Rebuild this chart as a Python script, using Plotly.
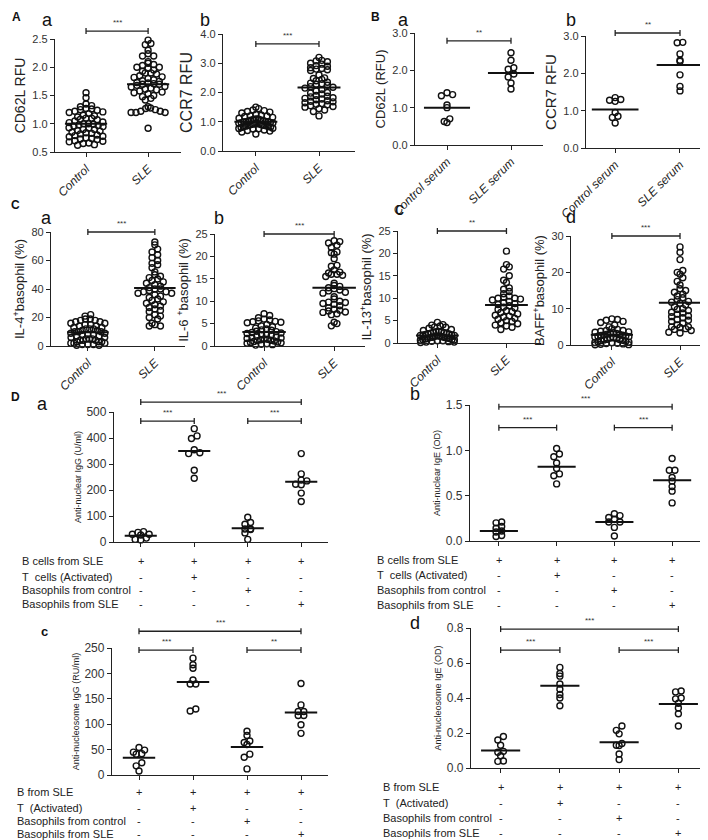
import math
import plotly.graph_objects as go

W, H = 708, 840

# ------------------------------------------------------------------ data
cats_A = ["Control", "SLE"]
cats_B = ["Control serum", "SLE serum"]

Aa_control = [1.55, 1.46, 1.35, 1.32, 1.30, 1.27, 1.26, 1.25, 1.24, 1.22, 1.21, 1.20, 1.18, 1.15, 1.14,
              1.12, 1.10, 1.10, 1.08, 1.07, 1.05, 1.03, 1.02, 1.00, 1.00, 0.99, 0.98, 0.97, 0.96, 0.95,
              0.93, 0.92, 0.90, 0.90, 0.88, 0.87, 0.85, 0.84, 0.83, 0.82, 0.80, 0.79, 0.78, 0.77, 0.75,
              0.74, 0.73, 0.72, 0.70, 0.69, 0.68, 0.66, 0.65, 0.63, 0.62]
Aa_sle = [2.48, 2.42, 2.40, 2.30, 2.24, 2.20, 2.20, 2.10, 2.07, 2.05, 2.03, 2.00, 2.00, 1.98, 1.95,
          1.93, 1.90, 1.90, 1.88, 1.85, 1.83, 1.82, 1.80, 1.78, 1.76, 1.75, 1.73, 1.72, 1.71, 1.70,
          1.70, 1.68, 1.66, 1.65, 1.63, 1.61, 1.60, 1.58, 1.56, 1.55, 1.53, 1.50, 1.48, 1.45, 1.42,
          1.30, 1.28, 1.27, 1.25, 1.22, 1.22, 1.20, 1.20, 1.20, 0.92]
Aa_means = [1.0, 1.7]

Ab_control = [1.50, 1.45, 1.40, 1.38, 1.35, 1.33, 1.30, 1.25, 1.22, 1.20, 1.20, 1.18, 1.15, 1.12, 1.10,
              1.10, 1.08, 1.06, 1.05, 1.04, 1.02, 1.01, 1.00, 1.00, 0.99, 0.98, 0.97, 0.96, 0.95, 0.94,
              0.93, 0.92, 0.91, 0.90, 0.90, 0.88, 0.87, 0.86, 0.85, 0.84, 0.83, 0.82, 0.80, 0.78, 0.77,
              0.76, 0.75, 0.72, 0.70, 0.68, 0.65, 0.58]
Ab_sle = [3.20, 3.10, 3.08, 3.05, 3.00, 2.97, 2.92, 2.90, 2.85, 2.82, 2.80, 2.78, 2.75, 2.60, 2.50,
          2.48, 2.45, 2.40, 2.35, 2.32, 2.30, 2.28, 2.25, 2.20, 2.18, 2.15, 2.10, 2.05, 2.00, 1.98,
          1.95, 1.90, 1.87, 1.85, 1.82, 1.80, 1.78, 1.75, 1.72, 1.70, 1.68, 1.65, 1.62, 1.60, 1.58,
          1.55, 1.52, 1.50, 1.45, 1.40, 1.35, 1.20]
Ab_means = [1.0, 2.17]

Ba_control = [1.40, 1.35, 1.32, 1.07, 1.00, 0.70, 0.60, 0.63]
Ba_sle = [2.47, 2.27, 2.07, 2.03, 1.90, 1.82, 1.66, 1.50]
Ba_means = [1.0, 1.93]

Bb_control = [1.35, 1.30, 1.28, 1.25, 0.95, 0.85, 0.82, 0.67]
Bb_sle = [2.83, 2.82, 2.52, 2.35, 2.32, 1.96, 1.65, 1.53]
Bb_means = [1.03, 2.22]

Ca_control = [22, 21, 19, 19, 18, 18, 17, 17, 16, 16, 15, 15, 14, 14, 13, 13, 12, 12, 12, 11, 11, 10,
              10, 10, 9, 9, 8, 8, 8, 7, 7, 6, 6, 5, 5, 5, 4, 4, 4, 3, 3, 3, 2, 2, 2, 1, 1, 1, 0.5, 0.5]
Ca_sle = [73, 71, 68, 66, 64, 62, 60, 58, 57, 55, 52, 50, 49, 48, 47, 46, 45, 44, 43, 42, 41, 40, 40,
          39, 38, 38, 37, 37, 36, 35, 34, 33, 32, 31, 30, 29, 28, 27, 26, 25, 24, 22, 21, 20, 19, 16,
          15, 14, 14]
Ca_means = [9.6, 40.7]

Cb_control = [7.2, 6.8, 6.3, 6.0, 5.8, 5.6, 5.5, 5.4, 5.3, 5.2, 4.8, 4.5, 4.3, 4.0, 3.8, 3.6, 3.5,
              3.3, 3.2, 3.0, 2.9, 2.8, 2.6, 2.5, 2.4, 2.2, 2.0, 1.9, 1.8, 1.7, 1.6, 1.5, 1.4, 1.3, 1.2,
              1.1, 1.0, 0.9, 0.8, 0.7, 0.6, 0.5, 0.4, 0.3, 0.2]
Cb_sle = [23.5, 23.3, 23.0, 22.5, 22.0, 21.0, 20.8, 20.5, 19.5, 18.0, 17.8, 17.0, 16.5, 16.3, 16.0,
          16.0, 15.8, 15.5, 14.0, 13.5, 13.3, 13.0, 12.8, 12.5, 12.3, 12.0, 11.8, 11.0, 10.5, 10.0,
          9.8, 9.7, 9.5, 9.3, 9.0, 8.5, 8.2, 8.0, 7.8, 7.6, 7.5, 7.2, 7.0, 5.3, 5.0, 4.5]
Cb_means = [3.1, 13.0]

Cc_control = [4.6, 4.1, 4.0, 3.8, 3.6, 3.5, 3.3, 3.0, 2.8, 2.6, 2.5, 2.5, 2.4, 2.3, 2.2, 2.1, 2.0,
              2.0, 1.9, 1.8, 1.8, 1.7, 1.7, 1.6, 1.5, 1.5, 1.4, 1.3, 1.2, 1.2, 1.1, 1.0, 1.0, 0.9,
              0.8, 0.8, 0.7, 0.6, 0.5, 0.5, 0.4, 0.3, 0.2, 0.2, 0.1]
Cc_sle = [20.5, 17.5, 17.0, 16.5, 15.0, 14.0, 13.5, 12.3, 12.0, 11.5, 11.0, 10.5, 10.2, 10.0, 10.0,
          9.8, 9.6, 9.3, 9.0, 8.8, 8.6, 8.3, 8.0, 7.8, 7.5, 7.2, 7.0, 6.8, 6.5, 6.2, 6.0, 5.8, 5.5,
          5.3, 5.0, 4.8, 4.5, 4.3, 4.0, 3.8, 3.5, 3.0]
Cc_means = [1.7, 8.5]

Cd_control = [7.2, 7.0, 6.8, 6.5, 6.2, 5.5, 5.0, 4.5, 4.3, 4.0, 4.0, 3.8, 3.6, 3.5, 3.4, 3.3, 3.2,
              3.0, 2.9, 2.8, 2.7, 2.6, 2.5, 2.4, 2.3, 2.2, 2.0, 1.9, 1.8, 1.6, 1.5, 1.4, 1.3, 1.2,
              1.0, 0.9, 0.8, 0.7, 0.6, 0.5, 0.4, 0.3, 0.2, 0.1, 0.05]
Cd_sle = [27.0, 25.5, 23.5, 20.5, 20.0, 19.5, 18.5, 17.5, 16.5, 15.5, 15.0, 14.5, 14.0, 13.5, 13.0,
          12.5, 12.0, 11.8, 11.5, 11.0, 10.5, 10.0, 9.8, 9.5, 9.0, 8.8, 8.5, 8.0, 7.8, 7.5, 7.0, 6.8,
          6.5, 6.0, 5.5, 5.0, 5.0, 4.8, 4.5, 4.3, 4.0, 3.5, 3.3]
Cd_means = [2.8, 11.6]

Da_g1 = [37, 30, 27, 30, 40, 15, 10, 8]
Da_g2 = [436, 408, 398, 355, 340, 343, 276, 245]
Da_g3 = [95, 75, 68, 50, 48, 50, 35, 10]
Da_g4 = [340, 262, 238, 235, 222, 220, 188, 156]
Da_means = [24, 350, 53, 232]

Db_g1 = [0.21, 0.20, 0.16, 0.14, 0.11, 0.10, 0.06, 0.05]
Db_g2 = [1.02, 0.96, 0.93, 0.86, 0.80, 0.74, 0.72, 0.63]
Db_g3 = [0.30, 0.28, 0.26, 0.24, 0.21, 0.21, 0.15, 0.055]
Db_g4 = [0.91, 0.78, 0.78, 0.70, 0.66, 0.60, 0.55, 0.42]
Db_means = [0.11, 0.82, 0.21, 0.67]

Dc_g1 = [54, 45, 41, 42, 49, 24, 18, 8]
Dc_g2 = [230, 217, 210, 187, 179, 179, 130, 126]
Dc_g3 = [86, 78, 67, 64, 60, 41, 35, 12]
Dc_g4 = [180, 138, 125, 125, 117, 117, 99, 82]
Dc_means = [34, 183, 55, 123]

Dd_g1 = [0.18, 0.16, 0.13, 0.095, 0.09, 0.07, 0.04, 0.038]
Dd_g2 = [0.575, 0.54, 0.525, 0.48, 0.45, 0.42, 0.40, 0.356]
Dd_g3 = [0.24, 0.215, 0.195, 0.14, 0.13, 0.128, 0.08, 0.048]
Dd_g4 = [0.44, 0.435, 0.40, 0.395, 0.37, 0.343, 0.31, 0.24]
Dd_means = [0.10, 0.47, 0.147, 0.366]

# significance brackets: (group from, group to, level, label)
Aa_sig = [(0, 1, 2.64, "***")]
Ab_sig = [(0, 1, 3.66, "***")]
Ba_sig = [(0, 1, 2.79, "**")]
Bb_sig = [(0, 1, 3.08, "**")]
Ca_sig = [(0, 1, 80, "***")]
Cb_sig = [(0, 1, 25, "***")]
Cc_sig = [(0, 1, 25, "**")]
Cd_sig = [(0, 1, 30, "***")]
Da_sig = [(0, 3, 538, "***"), (0, 1, 465, "***"), (2, 3, 465, "***")]
Db_sig = [(0, 3, 1.48, "***"), (0, 1, 1.25, "***"), (2, 3, 1.25, "***")]
Dc_sig = [(0, 3, 283, "***"), (0, 1, 246, "***"), (2, 3, 246, "**")]
Dd_sig = [(0, 3, 0.794, "***"), (0, 1, 0.674, "***"), (2, 3, 0.674, "***")]

rows_ab = ["B cells from SLE", "T\u00a0 cells (Activated)", "Basophils from control", "Basophils from SLE"]
rows_cd = ["B from SLE", "T\u00a0 (Activated)", "Basophils from control", "Basophils from SLE"]
signs = [["+", "+", "+", "+"],
         ["-", "+", "-", "-"],
         ["-", "-", "+", "-"],
         ["-", "-", "-", "+"]]

# ------------------------------------------------------------------ layout spec
FONT = "Liberation Sans, Arial, sans-serif"

panels = [
    dict(box=(47, 173, 31, 144), xr=[-0.5, 1.53], yr=[0.5, 2.5], dt=0.5, fmt=".1f",
         title="CD62L RFU", tfs=14, kfs=11, groups=[Aa_control, Aa_sle], means=Aa_means,
         cats=cats_A, sig=Aa_sig, hw=0.34),
    dict(box=(215, 347, 26, 143), xr=[-0.52, 1.57], yr=[0, 4], dt=1, fmt=".1f",
         title="CCR7 RFU", tfs=16, kfs=11, groups=[Ab_control, Ab_sle], means=Ab_means,
         cats=cats_A, sig=Ab_sig, hw=0.34),
    dict(box=(407, 535, 25, 137), xr=[-0.5, 1.5], yr=[0, 3], dt=1, fmt=".1f",
         title="CD62L (RFU)", tfs=13, kfs=11, groups=[Ba_control, Ba_sle], means=Ba_means,
         cats=cats_B, sig=Ba_sig, hw=0.36),
    dict(box=(578, 707, 28, 140), xr=[-0.45, 1.54], yr=[0, 3], dt=1, fmt=".1f",
         title="CCR7 RFU", tfs=15, kfs=11, groups=[Bb_control, Bb_sle], means=Bb_means,
         cats=cats_B, sig=Bb_sig, hw=0.36),
    dict(box=(43, 177, 224, 338), xr=[-0.55, 1.45], yr=[0, 80], dt=20, fmt="d",
         title="IL-4<sup>+</sup>basophil (%)", tfs=13, kfs=11, groups=[Ca_control, Ca_sle],
         means=Ca_means, cats=cats_A, sig=Ca_sig, hw=0.31),
    dict(box=(207, 357, 226, 338), xr=[-0.7, 1.44], yr=[0, 25], dt=5, fmt="d",
         title="IL-6 <sup>+</sup>basophil (%)", tfs=13, kfs=11, groups=[Cb_control, Cb_sle],
         means=Cb_means, cats=cats_A, sig=Cb_sig, hw=0.31),
    dict(box=(390, 533, 223, 335), xr=[-0.57, 1.5], yr=[0, 25], dt=5, fmt="d",
         title="IL-13<sup>+</sup>basophil (%)", tfs=13, kfs=11, groups=[Cc_control, Cc_sle],
         means=Cc_means, cats=cats_A, sig=Cc_sig, hw=0.31),
    dict(box=(563, 702, 228, 337), xr=[-0.6, 1.44], yr=[0, 30], dt=10, fmt="d",
         title="BAFF<sup>+</sup>basophil (%)", tfs=13, kfs=11, groups=[Cd_control, Cd_sle],
         means=Cd_means, cats=cats_A, sig=Cd_sig, hw=0.31),
    dict(box=(106, 320, 404, 534), xr=[-0.5, 3.5], yr=[0, 500], dt=100, fmt="d",
         title="Anti-nuclear IgG (U/ml)", tfs=9, kfs=12, groups=[Da_g1, Da_g2, Da_g3, Da_g4],
         means=Da_means, cats=None, sig=Da_sig, hw=0.3,
         rows=rows_ab, rows_x=12, rows_y=[553, 569, 582, 596]),
    dict(box=(462, 693, 397, 533), xr=[-0.5, 3.5], yr=[0, 1.5], dt=0.5, fmt=".1f",
         title="Anti-nuclear IgE (OD)", tfs=9, kfs=12, groups=[Db_g1, Db_g2, Db_g3, Db_g4],
         means=Db_means, cats=None, sig=Db_sig, hw=0.33,
         rows=rows_ab, rows_x=367, rows_y=[552, 567, 582, 597]),
    dict(box=(104, 320, 640, 767), xr=[-0.5, 3.5], yr=[0, 250], dt=50, fmt="d",
         title="Anti-nucleosome IgG (RU/ml)", tfs=9, kfs=12, groups=[Dc_g1, Dc_g2, Dc_g3, Dc_g4],
         means=Dc_means, cats=None, sig=Dc_sig, hw=0.3,
         rows=rows_cd, rows_x=7, rows_y=[784, 800, 813, 826]),
    dict(box=(463, 700, 620, 760), xr=[-0.5, 3.5], yr=[0, 0.8], dt=0.2, fmt=".1f",
         title="Anti-nucleosome IgE (OD)", tfs=9, kfs=12, groups=[Dd_g1, Dd_g2, Dd_g3, Dd_g4],
         means=Dd_means, cats=None, sig=Dd_sig, hw=0.33,
         rows=rows_cd, rows_x=373, rows_y=[779, 795, 810, 825]),
]

# panel letters: (text, x_px, y_px, size, bold)
letters = [("A", 8, 9, 12, True), ("a", 39, 12, 18, False), ("b", 197, 12, 18, False),
           ("B", 367, 9, 12, True), ("a", 396, 12, 18, False), ("b", 563, 12, 18, False),
           ("C", 7, 197, 12, True), ("a", 38, 210, 18, False), ("b", 211, 210, 18, False),
           ("c", 391, 201, 18, False), ("d", 563, 209, 18, False),
           ("D", 7, 389, 12, True), ("a", 34, 396, 18, False), ("b", 407, 386, 18, False),
           ("c", 36, 623, 13, True), ("d", 407, 615, 18, False)]

MARK = 6.0
COLSEP = 5.6   # horizontal spacing of points in a row (px)
ROWH = 5.0     # height of a row bin (px)
MAXW = 34.0    # widest a row of points may spread (px)


def px2paper_x(px):
    return px / W


def px2paper_y(py):
    return 1 - py / H


def swarm(values, center, ppx, ppy):
    """Column-scatter layout: bin points into rows by value, spread each row."""
    rows = {}
    for i, v in enumerate(values):
        rows.setdefault(int(round(v * ppy / ROWH)), []).append(i)
    xs = [0.0] * len(values)
    for r, idx in rows.items():
        idx.sort(key=lambda i: values[i])
        n = len(idx)
        sep = COLSEP if n < 2 else min(COLSEP, MAXW / (n - 1))
        order = idx[::2] + idx[1::2][::-1]
        for k, i in enumerate(order):
            xs[i] = center + (k - (n - 1) / 2) * sep / ppx
    return xs


fig = go.Figure()
layout = dict(width=W, height=H, margin=dict(l=0, r=0, t=0, b=0, autoexpand=False),
              showlegend=False, plot_bgcolor="white", paper_bgcolor="white",
              font=dict(family=FONT, color="#222"))
shapes = []
annotations = []

for i, p in enumerate(panels, start=1):
    sx = "" if i == 1 else str(i)
    xa, ya = "x" + sx, "y" + sx
    x0, x1, yt, yb = p["box"]
    ppx = (x1 - x0) / (p["xr"][1] - p["xr"][0])
    ppy = (yb - yt) / (p["yr"][1] - p["yr"][0])
    ngroups = len(p["groups"])

    for g, vals in enumerate(p["groups"]):
        xs = swarm(vals, g, ppx, ppy)
        fig.add_trace(go.Scatter(
            x=xs, y=vals, mode="markers", xaxis=xa, yaxis=ya, cliponaxis=False,
            marker=dict(symbol="circle-open", size=MARK, color="#111", line=dict(width=1.4, color="#111")),
            hoverinfo="skip"))
        m = p["means"][g]
        fig.add_trace(go.Scatter(
            x=[g - p["hw"], g + p["hw"]], y=[m, m], mode="lines", xaxis=xa, yaxis=ya,
            line=dict(color="#111", width=2), hoverinfo="skip"))

    ticks = list(range(ngroups))
    xaxis = dict(domain=[px2paper_x(x0), px2paper_x(x1)], range=p["xr"], anchor=ya,
                 showline=True, linecolor="#222", linewidth=1.3, showgrid=False, zeroline=False,
                 ticks="outside", ticklen=4, tickwidth=1.2, tickcolor="#222",
                 tickvals=ticks, fixedrange=True)
    if p["cats"]:
        xaxis.update(ticktext=["<i>%s</i>" % c for c in p["cats"]], tickangle=-45,
                     tickfont=dict(size=12, color="#222", family=FONT))
    else:
        xaxis.update(showticklabels=False)
    yaxis = dict(domain=[px2paper_y(yb), px2paper_y(yt)], range=p["yr"], anchor=xa,
                 showline=True, linecolor="#222", linewidth=1.3, showgrid=False, zeroline=False,
                 ticks="outside", ticklen=4, tickwidth=1.2, tickcolor="#222",
                 dtick=p["dt"], tick0=0, tickformat=p["fmt"],
                 tickfont=dict(size=p["kfs"], color="#333", family=FONT),
                 title=dict(text=p["title"], font=dict(size=p["tfs"], color="#222", family=FONT),
                            standoff=3),
                 fixedrange=True)
    layout["xaxis" + sx] = xaxis
    layout["yaxis" + sx] = yaxis

    def fx(v):
        return (v - p["xr"][0]) / (p["xr"][1] - p["xr"][0])

    def fy(v):
        return (v - p["yr"][0]) / (p["yr"][1] - p["yr"][0])

    cap = 3.0 / (yb - yt)
    for (g0, g1, lev, lab) in p["sig"]:
        a, b, c = fx(g0), fx(g1), fy(lev)
        base = dict(type="line", xref=xa + " domain", yref=ya + " domain",
                    line=dict(color="#222", width=1.3))
        shapes.append(dict(base, x0=a, x1=b, y0=c, y1=c))
        shapes.append(dict(base, x0=a, x1=a, y0=c - cap, y1=c + cap))
        shapes.append(dict(base, x0=b, x1=b, y0=c - cap, y1=c + cap))
        annotations.append(dict(text=lab, xref=xa + " domain", yref=ya + " domain",
                                x=(a + b) / 2, y=c, yanchor="bottom", xanchor="center",
                                yshift=2, showarrow=False, font=dict(size=8, color="#333")))

    if "rows" in p:
        for r, (lab, ry) in enumerate(zip(p["rows"], p["rows_y"])):
            annotations.append(dict(text=lab, xref="paper", yref="paper", x=px2paper_x(p["rows_x"]),
                                    y=px2paper_y(ry), xanchor="left", yanchor="middle",
                                    showarrow=False, font=dict(size=11, color="#222")))
            for g in range(ngroups):
                annotations.append(dict(text=signs[r][g], xref=xa, yref="paper", x=g,
                                        y=px2paper_y(ry), xanchor="center", yanchor="middle",
                                        showarrow=False, font=dict(size=11, color="#222")))

for (t, lx, ly, sz, bold) in letters:
    annotations.append(dict(text="<b>%s</b>" % t if bold else t, xref="paper", yref="paper",
                            x=px2paper_x(lx), y=px2paper_y(ly), xanchor="center", yanchor="middle",
                            showarrow=False, font=dict(size=sz, color="#111", family=FONT)))

layout["shapes"] = shapes
layout["annotations"] = annotations
fig.update_layout(**layout)
fig.write_html("out.html")
